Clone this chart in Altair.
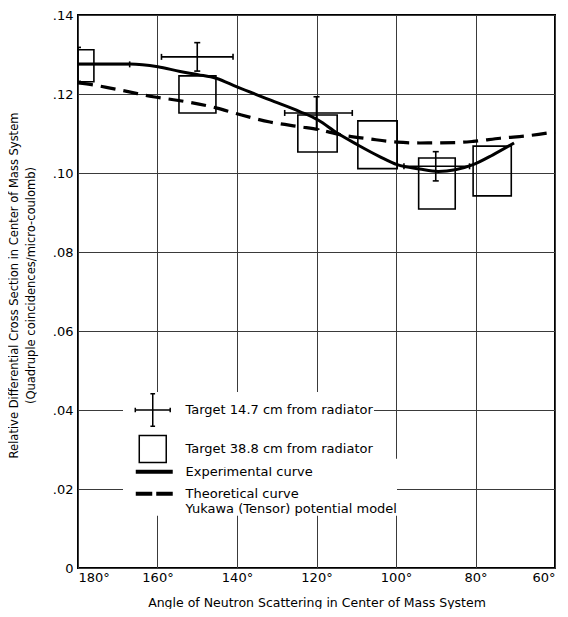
import altair as alt
import pandas as pd

FONT = "DejaVu Sans"

# ---- Target 14.7 cm from radiator (crosses) ----
cross_angle = [180, 150, 120, 90]
cross_value = [0.1275, 0.1294, 0.1152, 0.1017]
cross_err = [0.0043, 0.0036, 0.0041, 0.0037]
cross_ang_hi = [193, 159, 128, 98]
cross_ang_lo = [167, 141, 111, 81.5]

# ---- Target 38.8 cm from radiator (boxes) ----
box_ang_hi = [184, 154.6, 124.7, 109.6, 94.3, 80.6]
box_ang_lo = [176, 145.3, 114.8, 99.7, 85.1, 71.0]
box_top = [0.1312, 0.1246, 0.1147, 0.1132, 0.1038, 0.1068]
box_bottom = [0.1231, 0.1152, 0.1053, 0.1011, 0.0909, 0.0942]

# ---- Experimental curve ----
exp_angle = [180, 166.9, 159.9, 154.3, 149.8, 145.3, 140.0, 131.7, 124.1, 119.6,
             114.8, 109.6, 104.0, 99.7, 94.0, 89.4, 85.1, 80.6, 75.6, 70.3]
exp_value = [0.1276, 0.1276, 0.1269, 0.1257, 0.1249, 0.1240, 0.1218, 0.1185, 0.1155, 0.1134,
             0.1101, 0.1071, 0.1041, 0.1021, 0.1010, 0.1004, 0.1008, 0.1021, 0.1046, 0.1076]

# ---- Theoretical curve ----
theo_angle = [180, 176.2, 171.9, 167.4, 161.1, 154.3, 145.3, 140.0, 131.7, 124.1,
              119.6, 114.1, 106.5, 99.7, 94.0, 85.1, 80.6, 73.8, 66.3, 60.0]
theo_value = [0.1228, 0.1223, 0.1215, 0.1206, 0.1193, 0.1183, 0.1165, 0.1150, 0.1129, 0.1117,
              0.1110, 0.1097, 0.1086, 0.1078, 0.1076, 0.1077, 0.1080, 0.1088, 0.1095, 0.1104]

x_ticks = [180, 160, 140, 120, 100, 80, 60]
y_ticks = [0, 0.02, 0.04, 0.06, 0.08, 0.10, 0.12, 0.14]

# legend entries (two legend blocks: markers, curves)
marker_labels = ["Target 14.7 cm from radiator", "Target 38.8 cm from radiator"]
marker_paths = [
    "M-1.075,0H1.075M0,-1.0V1.0M-1.075,-0.144V0.144M1.075,-0.144V0.144"
    "M-0.144,-1.0H0.144M-0.144,1.0H0.144",
    "M-0.83,-0.83H0.83V0.83H-0.83Z",
]
curve_labels = ["Experimental curve", "Theoretical curve|Yukawa (Tensor) potential model"]
curve_paths = [
    "M-1.51,-0.102H1.51M-1.51,0H1.51M-1.51,0.102H1.51",
    "M-1.51,-0.102H-0.163M-1.51,0H-0.163M-1.51,0.102H-0.163"
    "M0.163,-0.102H1.51M0.163,0H1.51M0.163,0.102H1.51",
]

x_title = "Angle of Neutron Scattering in Center of Mass System"
y_title = ["Relative Differential Cross Section in Center of Mass System",
           "(Quadruple coincidences/micro-coulomb)"]

xscale = alt.Scale(domain=[60, 180], reverse=True, nice=False, zero=False)
yscale = alt.Scale(domain=[0, 0.14], nice=False, zero=True)

x_axis = alt.Axis(
    values=x_ticks,
    labelExpr="datum.value + '°'",
    labelAlign={"condition": [{"test": "datum.value == 180", "value": "left"},
                              {"test": "datum.value == 60", "value": "right"}],
                "value": "center"},
    labelPadding=3,
    titlePadding=12,
    titleFontSize=12.5,
)
y_axis = alt.Axis(
    values=y_ticks,
    labelExpr="datum.value == 0 ? '0' : replace(format(datum.value, '.2f'), '0.', '.')",
    labelPadding=5,
    titleX=-70,
    titleY=270,
    titleAngle=270,
    titleAlign="center",
    titleBaseline="top",
    titleFontSize=11.5,
    titleLineHeight=17,
)


def X(field):
    return alt.X(field, type="quantitative", scale=xscale, axis=x_axis, title=x_title)


def Y(field):
    return alt.Y(field, type="quantitative", scale=yscale, axis=y_axis, title=y_title)


exp_df = pd.DataFrame({"angle": exp_angle, "value": exp_value})
theo_df = pd.DataFrame({"angle": theo_angle, "value": theo_value})
cross_df = pd.DataFrame({
    "angle": cross_angle,
    "value": cross_value,
    "lo": [v - e for v, e in zip(cross_value, cross_err)],
    "hi": [v + e for v, e in zip(cross_value, cross_err)],
    "alo": cross_ang_lo,
    "ahi": cross_ang_hi,
})
box_df = pd.DataFrame({"ahi": box_ang_hi, "alo": box_ang_lo,
                       "top": box_top, "bottom": box_bottom})

exp_line = alt.Chart(exp_df).mark_line(
    color="black", strokeWidth=3, interpolate="monotone"
).encode(x=X("angle"), y=Y("value"))

theo_line = alt.Chart(theo_df).mark_line(
    color="black", strokeWidth=3.2, strokeDash=[15, 8], interpolate="monotone"
).encode(x=X("angle"), y=Y("value"))

boxes = alt.Chart(box_df).mark_rect(
    fill="transparent", stroke="black", strokeWidth=1.6, clip=True
).encode(x=X("ahi"), x2="alo:Q", y=Y("bottom"), y2="top:Q")

vbar = alt.Chart(cross_df).mark_rule(color="black", strokeWidth=1.6, clip=True).encode(
    x=X("angle"), y=Y("lo"), y2="hi:Q")
hbar = alt.Chart(cross_df).mark_rule(color="black", strokeWidth=1.6, clip=True).encode(
    x=X("alo"), x2="ahi:Q", y=Y("value"))
cap_lo = alt.Chart(cross_df).mark_tick(
    color="black", orient="horizontal", size=6, thickness=1.6, clip=True, opacity=1
).encode(x=X("angle"), y=Y("lo"))
cap_hi = alt.Chart(cross_df).mark_tick(
    color="black", orient="horizontal", size=6, thickness=1.6, clip=True, opacity=1
).encode(x=X("angle"), y=Y("hi"))
cap_l = alt.Chart(cross_df).mark_tick(
    color="black", orient="vertical", size=6, thickness=1.6, clip=True, opacity=1
).encode(x=X("alo"), y=Y("value"))
cap_r = alt.Chart(cross_df).mark_tick(
    color="black", orient="vertical", size=6, thickness=1.6, clip=True, opacity=1
).encode(x=X("ahi"), y=Y("value"))

legend_common = dict(
    title=None,
    orient="none",
    fillColor="white",
    symbolStrokeWidth=1.5,
    symbolStrokeColor="black",
    symbolOpacity=1,
    labelFont=FONT,
    labelFontSize=13,
    labelColor="black",
    labelLimit=0,
    labelExpr="split(datum.label, '|')",
)

legend_curves = alt.Chart(pd.DataFrame({"curve": curve_labels})).transform_filter(
    "false"
).mark_point(filled=False, color="black", strokeWidth=1.5, opacity=1).encode(
    shape=alt.Shape(
        "curve:N",
        scale=alt.Scale(domain=curve_labels, range=curve_paths),
        legend=alt.Legend(
            legendX=45, legendY=443.75, padding=0,
            symbolSize=600, symbolOffset=18.25, labelOffset=18.25,
            **legend_common,
        ),
    )
)

legend_markers = alt.Chart(pd.DataFrame({"label": marker_labels})).transform_filter(
    "false"
).mark_point(filled=False, color="black", strokeWidth=1.5, opacity=1).encode(
    shape=alt.Shape(
        "label:N",
        scale=alt.Scale(domain=marker_labels, range=marker_paths),
        legend=alt.Legend(
            legendX=45, legendY=377, padding=1,
            symbolSize=1056, symbolOffset=11.75, labelOffset=15.75,
            **legend_common,
        ),
    )
)

chart = alt.layer(
    exp_line, theo_line, boxes, vbar, hbar, cap_lo, cap_hi, cap_l, cap_r,
    legend_curves, legend_markers
).resolve_scale(
    shape="independent"
).resolve_legend(
    shape="independent"
).properties(
    width=477,
    height=553,
    autosize=alt.AutoSizeParams(type="none"),
    padding={"left": 70, "top": 7, "right": 5, "bottom": 41},
    background="white",
).configure_view(
    stroke="black", strokeWidth=2
).configure_axis(
    grid=True,
    gridColor="#3a3a3a",
    gridWidth=1,
    domain=False,
    ticks=False,
    labelFont=FONT,
    labelFontSize=13,
    labelColor="black",
    titleFont=FONT,
    titleColor="black",
    titleFontWeight="normal",
)

chart.save("out.html", embed_options={"renderer": "svg", "actions": False})
